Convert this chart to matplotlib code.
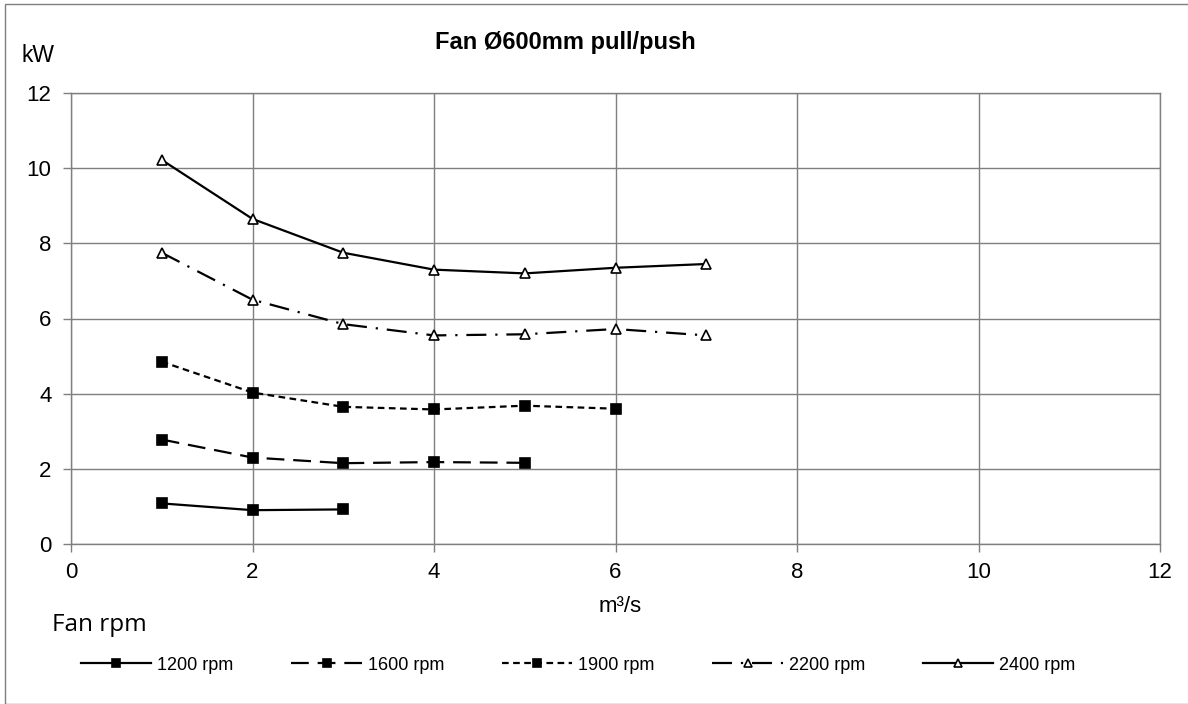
import matplotlib
matplotlib.use("Agg")
import matplotlib.pyplot as plt
from matplotlib.patches import Rectangle

plt.rcParams['font.family'] = ['Liberation Sans', 'DejaVu Sans']

flow = [1, 2, 3, 4, 5, 6, 7]
kw_1200 = [1.08, 0.90, 0.92]
kw_1600 = [2.78, 2.30, 2.15, 2.18, 2.16]
kw_1900 = [4.85, 4.03, 3.65, 3.58, 3.68, 3.60]
kw_2200 = [7.75, 6.50, 5.85, 5.55, 5.58, 5.72, 5.55]
kw_2400 = [10.22, 8.65, 7.75, 7.30, 7.20, 7.35, 7.45]
labels = ["1200 rpm", "1600 rpm", "1900 rpm", "2200 rpm", "2400 rpm"]
xticks = [0, 2, 4, 6, 8, 10, 12]
yticks = [0, 2, 4, 6, 8, 10, 12]

fig = plt.figure(figsize=(11.88, 7.04), dpi=100)
ax = fig.add_axes([71/1188, 1-544/704, (1160-71)/1188, (544-93)/704])

series = [kw_1200, kw_1600, kw_1900, kw_2200, kw_2400]
styles = [
    dict(ls='-', marker='s', mfc='black'),
    dict(ls=(0, (8, 4)), marker='s', mfc='black'),
    dict(ls=(0, (3, 2)), marker='s', mfc='black'),
    dict(ls=(0, (9, 4, 1, 4)), marker='^', mfc='white'),
    dict(ls='-', marker='^', mfc='white'),
]
for vals, st, lab in zip(series, styles, labels):
    ax.plot(flow[:len(vals)], vals, color='black', lw=1.6, ls=st['ls'],
            marker=st['marker'], ms=6.5, mfc=st['mfc'], mec='black', mew=1.2,
            label=lab)

ax.set_xlim(0, 12)
ax.set_ylim(0, 12)
ax.set_xticks(xticks)
ax.set_yticks(yticks)
ax.grid(True, color='#7f7f7f', lw=1)
ax.set_axisbelow(True)
for s in ax.spines.values():
    s.set_color('#7f7f7f')
    s.set_linewidth(1)
ax.tick_params(direction='out', length=6, width=1, color='#7f7f7f',
               labelsize=16)
ax.tick_params(axis='y', pad=8)
ax.tick_params(axis='x', pad=7)

fig.text(565/1188, 1-43/704, "Fan Ø600mm pull/push", ha='center', va='center',
         fontsize=17, fontweight='bold')
fig.text(38/1188, 1-56/704, "kW", ha='center', va='center', fontsize=16.5)
fig.text(620/1188, 1-606/704, "m³/s", ha='center', va='center', fontsize=16)
fig.text(52/1188, 1-625/704, "Fan rpm", ha='left', va='center', fontsize=17.5,
         family=['Open Sans', 'DejaVu Sans'])

handles, labs = ax.get_legend_handles_labels()
leg = fig.legend(handles, labs, loc='center left', bbox_to_anchor=(81/1188, 1-665/704),
                 ncol=5, frameon=False, fontsize=13, handlelength=3.9,
                 handletextpad=0.33, columnspacing=3.2, markerscale=0.8,
                 borderpad=0, borderaxespad=0)

fig.patches.append(Rectangle((5/1188, 0), 2, 1-4/704, transform=fig.transFigure,
                             fill=False, edgecolor='#7f7f7f', lw=1))

fig.savefig("out.png", dpi=100)
